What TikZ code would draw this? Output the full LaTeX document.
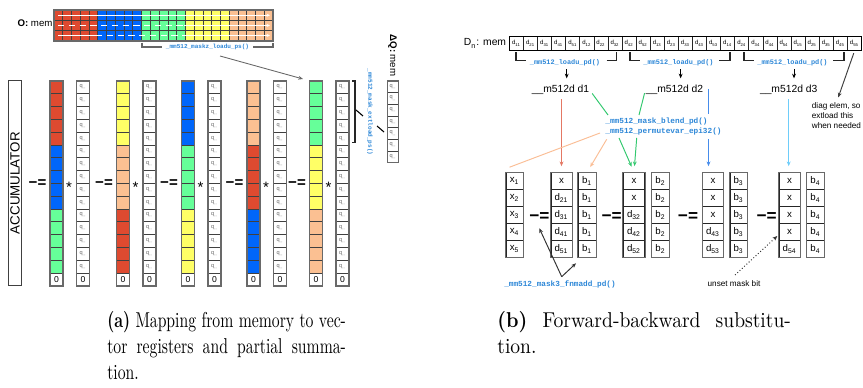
\documentclass[tikz,border=0pt]{standalone}
\usepackage{fontspec}
\newfontfamily\sansf{Liberation Sans}
\newfontfamily\monof{Liberation Mono}
\usetikzlibrary{arrows.meta}
\definecolor{cred}{RGB}{222,74,48}
\definecolor{cblue}{RGB}{0,102,250}
\definecolor{cgreen}{RGB}{102,255,153}
\definecolor{cyel}{RGB}{255,255,102}
\definecolor{cpeach}{RGB}{251,192,146}
\definecolor{fnblue}{RGB}{45,135,215}
\definecolor{lred}{RGB}{228,120,100}
\definecolor{lgreen}{RGB}{50,200,110}
\definecolor{lpeach}{RGB}{250,190,150}
\definecolor{lblue}{RGB}{70,140,235}
\definecolor{lcyan}{RGB}{110,205,250}
\definecolor{framegray}{RGB}{105,105,105}
\def\U{0.465pt}
\tikzset{
  acell/.style={draw=black!75, line width=0.35pt},
  aframe/.style={draw=framegray, line width=0.75pt},
  bframe/.style={draw=framegray, line width=0.6pt},
  qtxt/.style={font=\sansf\fontsize{2.6}{3}\selectfont, text=black!60, inner sep=0},
  ztxt/.style={font=\sansf\fontsize{4}{4.5}\selectfont, inner sep=0},
  fn/.style={font=\monof\bfseries\fontsize{3.6}{4.3}\selectfont, text=fnblue, inner sep=0},
  fns/.style={font=\monof\bfseries\fontsize{2.8}{3.3}\selectfont, text=fnblue, inner sep=0},
  fnm/.style={font=\monof\bfseries\fontsize{3.2}{3.8}\selectfont, text=fnblue, inner sep=0},
  lbl/.style={font=\sansf\fontsize{4.8}{5.5}\selectfont, inner sep=0},
  small/.style={font=\sansf\fontsize{3.8}{4.65}\selectfont, inner sep=0},
  op/.style={font=\sansf\bfseries\fontsize{7}{8}\selectfont, inner sep=0},
  opb/.style={font=\sansf\bfseries\fontsize{8}{9}\selectfont, inner sep=0},
  star/.style={font=\sansf\fontsize{7}{8}\selectfont, inner sep=0},
  bcell/.style={draw=black!85, line width=0.45pt, inner sep=0, font=\sansf\fontsize{4.5}{5}\selectfont, minimum height=16.92*\U},
  mcell/.style={draw=black!85, line width=0.4pt, inner sep=0, font=\sansf\fontsize{2.8}{3}\selectfont, minimum height=14*\U, minimum width=14.08*\U},
  brk/.style={line width=0.6pt, draw=black!85},
  tip/.style={-{Stealth[length=2.2pt,width=1.8pt]}},
  thinl/.style={line width=0.45pt},
}
\newcommand\mkcol[8]{%
  \node[bcell, minimum width=#3*\U] (#1-1) at (#2,181.16) {#4};
  \node[bcell, minimum width=#3*\U] (#1-2) at (#2,198.08) {#5};
  \node[bcell, minimum width=#3*\U] (#1-3) at (#2,215.00) {#6};
  \node[bcell, minimum width=#3*\U] (#1-4) at (#2,231.92) {#7};
  \node[bcell, minimum width=#3*\U] (#1-5) at (#2,248.84) {#8};
  \draw[bframe] (#1-1.north west) rectangle (#1-5.south east);
}
\begin{document}
\begin{tikzpicture}[x=\U, y=-\U]
\useasboundingbox (0,0) rectangle (863,388);
% ================= (a) =================
% memory block O
\foreach \g/\c in {0/cred,1/cblue,2/cgreen,3/cyel,4/cpeach}
  \fill[\c] (54+43.8*\g,10) rectangle ++(43.8,31);
\foreach \i in {1,...,24} \draw[acell] (54+8.76*\i,10) -- ++(0,31);
\draw[acell] (54,20.33) -- (273,20.33) (54,30.67) -- (273,30.67);
\draw[aframe] (54,10) rectangle (273,41);
\draw[white, line width=0.4pt, -{Stealth[length=1.6pt,width=1.4pt]}] (58,15.3) -- (270,15.3);
\draw[white, line width=0.4pt, densely dashed] (58,25.5) -- (184,25.5);
\draw[white, line width=0.4pt, -{Stealth[length=1.6pt,width=1.4pt]}] (184,25.5) -- (270,25.5);
\draw[white, line width=0.4pt] (58,35.5) -- (96,35.5);
\draw[white, line width=0.4pt, densely dashed] (96,35.5) -- (184,35.5);
\draw[white, line width=0.4pt, -{Stealth[length=1.6pt,width=1.4pt]}] (184,35.5) -- (270,35.5);
\node[font=\sansf\fontsize{4.5}{5}\selectfont, inner sep=0] (omem) at (35,23.5) {\textbf{O:} mem};
% bracket + maskz_loadu
\node[fns] (lps) at (207.5,47) {\_mm512\_maskz\_loadu\_ps()};
\draw[line width=0.9pt, draw=black!60] (142,42.7) -- (142,46.7) -- (162,46.7);
\draw[line width=0.9pt, draw=black!60] (253,46.7) -- (272.7,46.7) -- (272.7,42.7);
\coordinate (lpsfoot) at (220,56);
\coordinate (g5top) at (303,79);
\draw[draw=black!60, line width=0.4pt, tip] (lpsfoot) -- (g5top);
% accumulator
\draw[acell, line width=0.5pt] (8.3,80.7) rectangle (21.7,285.7);
\node[font=\sansf\fontsize{6.2}{7}\selectfont, inner sep=0, rotate=90] (acc) at (15,183.2) {ACCUMULATOR};
% column groups
\foreach \x/\ca/\cb/\cc [count=\g] in {50/cred/cblue/cgreen, 116.5/cyel/cpeach/cred, 181.5/cblue/cgreen/cyel, 247/cpeach/cred/cblue, 309.5/cgreen/cyel/cpeach}{
  \foreach \k in {0,...,4}{
    \draw[acell, fill=\ca] (\x,81+12.8*\k) rectangle ++(13,12.8);
    \draw[acell, fill=\cb] (\x,145+12.8*\k) rectangle ++(13,12.8);
    \draw[acell, fill=\cc] (\x,209+12.8*\k) rectangle ++(13,12.8);
  }
  \draw[acell, fill=white] (\x,273) rectangle ++(13,12.8);
  \node[ztxt] (z\g) at (\x+6.5,279.4) {0};
  \draw[aframe] (\x,81) rectangle ++(13,204.8);
  \node[op] (eq\g) at (\x-12.5,183.4) {−=};
  \node[star] (st\g) at (\x+19,187.5) {*};
  \foreach \k in {0,...,14}{
    \draw[acell, fill=white] (\x+26.5,81+12.8*\k) rectangle ++(13,12.8);
    \node[qtxt] (q\g-\k) at (\x+33,87.4+12.8*\k) {q\textsubscript{--}};
  }
  \draw[acell, fill=white] (\x+26.5,273) rectangle ++(13,12.8);
  \node[ztxt] (zq\g) at (\x+33,279.4) {0};
  \draw[aframe] (\x+26.5,81) rectangle ++(13,204.8);
}
% bracket right of last q column
\draw[line width=0.5pt, draw=black!85] (352,81) -- (355,81) -- (355,142.7) -- (352,142.7);
\node[fns, rotate=-90] (ext) at (370,112) {\_mm512\_mask\_extload\_ps()};
\draw[line width=0.5pt] (356,110) -- (363,116);
\draw[line width=0.5pt] (377,126) -- (384,132);
% Delta Q
\node[font=\sansf\fontsize{4.5}{5}\selectfont, inner sep=0, rotate=-90] (dq) at (392.5,55.5) {\textbf{ΔQ:} mem};
\foreach \k in {0,...,6}{
  \draw[acell, fill=white] (387.5,81+11.67*\k) rectangle ++(11,11.67);
  \node[qtxt] (dqc\k) at (393,86.8+11.67*\k) {q\textsubscript{--}};
}
\draw[aframe, line width=0.6pt] (387.5,81) rectangle (398.5,162.7);
% ================= (b) =================
\node[lbl] (dn) at (485,43.5) {D\textsubscript{n}: mem};
\foreach \t [count=\i from 0] in {11,21,31,41,51,12,22,32,42,52,13,23,33,43,53,14,24,34,44,54,15,25,35,45,55}
  \node[mcell] (m\t) at (516.54+14.08*\i,43.7) {d\textsubscript{\t}};
\draw[line width=0.6pt] (509.5,36.7) rectangle (861.5,50.7);
% brackets
\node[fnm] (ld1) at (565,62.5) {\_mm512\_loadu\_pd()};
\draw[brk] (516,52.3) -- (516,60.7) -- (526,60.7);
\draw[brk] (606.7,60.7) -- (616.7,60.7) -- (616.7,52.3);
\node[fnm] (ld2) at (678.5,62.5) {\_mm512\_loadu\_pd()};
\draw[brk] (630,52.3) -- (630,60.7) -- (639.5,60.7);
\draw[brk] (719,60.7) -- (730,60.7) -- (730,52.3);
\node[fnm] (ld3) at (792.5,62.5) {\_mm512\_loadu\_pd()};
\draw[brk] (744,52.3) -- (744,60.7) -- (754,60.7);
\draw[brk] (833.3,60.7) -- (844,60.7) -- (844,52.3);
% loaded registers
\node[lbl] (d1lbl) at (560.5,90) {\_\_m512d d1};
\node[lbl] (d2lbl) at (674.5,90) {\_\_m512d d2};
\node[lbl] (d3lbl) at (788.7,90) {\_\_m512d d3};
\draw[thinl, tip] ([xshift=0.8pt,yshift=-1.5pt]ld1.south) -- ([xshift=0.8pt,yshift=-5.7pt]ld1.south);
\draw[thinl, tip] ([xshift=1pt,yshift=-1.5pt]ld2.south) -- ([xshift=1pt,yshift=-5.7pt]ld2.south);
\draw[thinl, tip] ([xshift=0.7pt,yshift=-1.5pt]ld3.south) -- ([xshift=0.7pt,yshift=-5.7pt]ld3.south);
% diag note
\node[small, align=left, anchor=north west] (diag) at (811.5,102.5) {diag elem, so\\extload this\\when needed};
\draw[thinl, draw=black!75, tip, shorten <=1pt, shorten >=2.5pt] (m55.south) -- (diag.north);
% intrinsics labels
\node[fn, anchor=west] (blend) at (605,122) {\_mm512\_mask\_blend\_pd()};
\node[fn, anchor=west] (perm) at (605,132) {\_mm512\_permutevar\_epi32()};
% columns
\mkcol{xc}{514.65}{17.3}{x\textsubscript{1}}{x\textsubscript{2}}{x\textsubscript{3}}{x\textsubscript{4}}{x\textsubscript{5}}
\mkcol{dc1}{561.5}{21}{x}{d\textsubscript{21}}{d\textsubscript{31}}{d\textsubscript{41}}{d\textsubscript{51}}
\mkcol{bc1}{587.15}{17.7}{b\textsubscript{1}}{b\textsubscript{1}}{b\textsubscript{1}}{b\textsubscript{1}}{b\textsubscript{1}}
\mkcol{dc2}{634}{21.4}{x}{x}{d\textsubscript{32}}{d\textsubscript{42}}{d\textsubscript{52}}
\mkcol{bc2}{660.5}{17.6}{b\textsubscript{2}}{b\textsubscript{2}}{b\textsubscript{2}}{b\textsubscript{2}}{b\textsubscript{2}}
\mkcol{dc3}{713}{20.6}{x}{x}{x}{d\textsubscript{43}}{d\textsubscript{53}}
\mkcol{bc3}{738.65}{17.3}{b\textsubscript{3}}{b\textsubscript{3}}{b\textsubscript{3}}{b\textsubscript{3}}{b\textsubscript{3}}
\mkcol{dc4}{789.65}{20.7}{x}{x}{x}{x}{d\textsubscript{54}}
\mkcol{bc4}{815.5}{17.6}{b\textsubscript{4}}{b\textsubscript{4}}{b\textsubscript{4}}{b\textsubscript{4}}{b\textsubscript{4}}
\node[opb] (beq1) at (539.3,216.7) {−=};
\node[opb] (beq2) at (611.7,216.7) {−=};
\node[opb] (beq3) at (688,216.7) {−=};
\node[opb] (beq4) at (766.7,216.7) {−=};
% coloured connectors
\draw[lred, thinl, tip, shorten <=1.7pt, shorten >=2.8pt] (dc1-1.north |- d1lbl.south) -- (dc1-1.north);
\coordinate (gA) at (608,115);
\coordinate (gB) at (639,115);
\draw[lgreen, thinl, shorten <=2pt] (d1lbl.east) -- (gA);
\draw[lgreen, thinl, shorten <=1.5pt] (d2lbl.west) -- (gB);
\coordinate (gC) at (619,138);
\coordinate (gD) at (636.7,138);
\draw[lgreen, thinl, tip, shorten >=2.8pt] (gC) -- (dc2-1.north);
\draw[lgreen, thinl, tip, shorten >=2.8pt] (gD) -- (dc2-1.north);
\coordinate (pA) at (600,133);
\coordinate (pB) at (606.7,139.3);
\draw[lpeach, thinl] (pA) -- ([shift={(4,-5)}]xc-1.north west);
\draw[lpeach, thinl, tip, shorten >=2.8pt] (pB) -- (bc1-1.north);
\coordinate (bA) at (708.5,89);
\coordinate (bB) at (708.5,114);
\coordinate (bC) at (708.5,139);
\draw[lblue, thinl] (bA) -- (bB);
\draw[lblue, thinl, tip, shorten >=2.8pt] (bC) -- (dc3-1.north -| bC);
\draw[lcyan, line width=0.6pt, tip, shorten <=2pt, shorten >=2.8pt] (d3lbl.south) -- (d3lbl.south |- dc4-1.north);
% fnmadd
\node[fn] (fnm) at (560,284) {\_mm512\_mask3\_fnmadd\_pd()};
\coordinate (fk) at (561.7,276.7);
\draw[thinl, draw=black!80, tip] (fk) -- (539.3,228.3);
\draw[thinl, draw=black!80, tip] (fk) -- (576,263.3);
% unset mask bit
\node[small] (unset) at (734,283.3) {unset mask bit};
\coordinate (uk) at (735,275);
\draw[thinl, draw=black!80, densely dotted, tip] (uk) -- (777.3,236);
% ================= captions =================
\node[anchor=north west, align=left, inner sep=0, xscale=0.73, transform shape, font=\fontsize{10}{12}\selectfont] (capa) at (107,311)
  {\makebox[152pt][s]{\textbf{(a)} Mapping from memory to vec-}\\\makebox[152pt][s]{tor registers and partial summa-}\\tion.};
\node[anchor=north west, align=left, inner sep=0, xscale=0.91, transform shape, font=\fontsize{10}{12}\selectfont] (capb) at (497,311)
  {\makebox[150pt][s]{\textbf{(b)} Forward-backward substitu-}\\tion.};
\end{tikzpicture}
\end{document}
